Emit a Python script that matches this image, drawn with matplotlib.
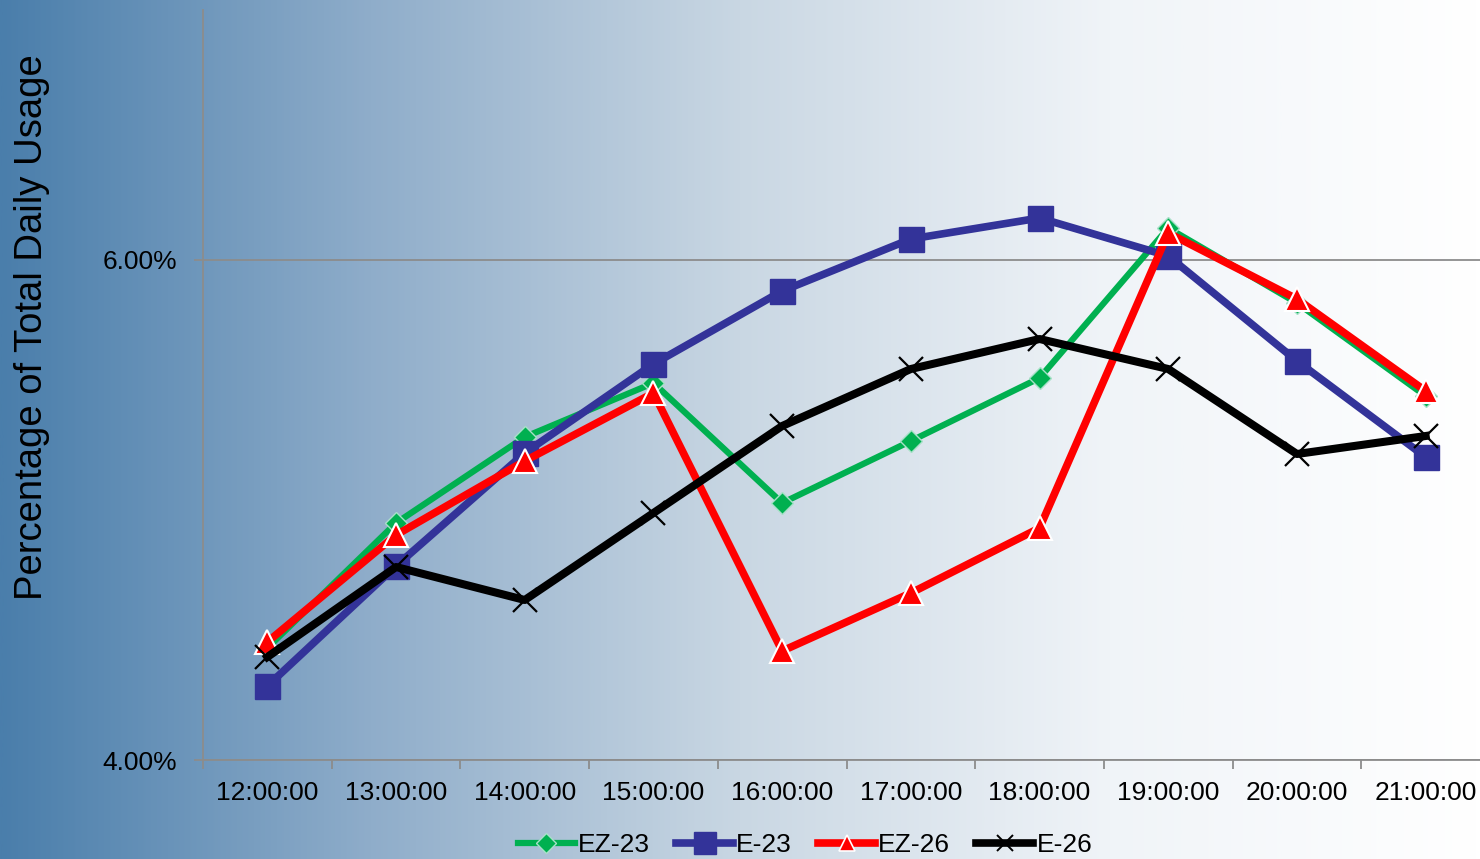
import numpy as np
import matplotlib.pyplot as plt
from matplotlib.lines import Line2D
from matplotlib.colors import LinearSegmentedColormap

plt.rcParams['font.family'] = ['Liberation Sans', 'DejaVu Sans']

hours = ["12:00:00", "13:00:00", "14:00:00", "15:00:00", "16:00:00",
         "17:00:00", "18:00:00", "19:00:00", "20:00:00", "21:00:00"]
ez23 = [4.448, 4.948, 5.292, 5.508, 5.028, 5.276, 5.528, 6.128, 5.828, 5.456]
e23 = [4.296, 4.776, 5.228, 5.584, 5.876, 6.084, 6.168, 6.016, 5.596, 5.212]
ez26 = [4.472, 4.900, 5.196, 5.468, 4.436, 4.668, 4.928, 6.108, 5.844, 5.476]
e26 = [4.412, 4.772, 4.640, 4.988, 5.336, 5.564, 5.684, 5.564, 5.224, 5.296]

fig = plt.figure(figsize=(14.8, 8.59), dpi=100)

# background gradient over the whole figure
bg = fig.add_axes([0, 0, 1, 1], zorder=-10)
cmap = LinearSegmentedColormap.from_list("bg", ["#4a7eab", "#8fadca", "#c9d7e3", "#f0f4f8", "#ffffff"])
bg.imshow(np.linspace(0, 1, 512)[None, :], aspect='auto', cmap=cmap, extent=[0, 1, 0, 1])
bg.axis('off')

ax = fig.add_axes([203 / 1480, 1 - 760 / 859, 1287 / 1480, 750 / 859])
ax.patch.set_alpha(0)
x = np.arange(len(hours))

ax.plot(x, ez23, color='#00b050', lw=4.5, marker='D', ms=11, mfc='#00b050',
        mec='#a8e0c8', mew=1, zorder=3)
ax.plot(x, e23, color='#333399', lw=5.5, marker='s', ms=18, mfc='#333399',
        mec='#333399', zorder=4)
ax.plot(x, ez26, color='#ff0000', lw=5.5, marker='^', ms=17, mfc='#ff0000',
        mec='white', mew=1.5, zorder=5)
ax.plot(x, e26, color='black', lw=5.8, zorder=6)
ax.plot(x, e26, ls='none', marker='x', ms=17, mec='black', mew=1.6, zorder=7)

ax.set_xlim(-0.5, 9.5)
ax.set_ylim(4.0, 7.0)
ax.set_yticks([4.0, 6.0])
ax.set_yticklabels(["4.00%", "6.00%"])
ax.set_xticks(x)
ax.set_xticklabels(hours)
ax.set_xticks(np.arange(-0.5, 10, 1), minor=True)
ax.tick_params(axis='x', which='major', length=0, pad=15, labelsize=19)
ax.tick_params(axis='x', which='minor', length=6.5, width=1.3, color='#8c8c8c', direction='out')
ax.tick_params(axis='y', length=6.5, width=1.3, color='#8c8c8c', pad=12, labelsize=19)
ax.grid(axis='y', color='#8c8c8c', lw=1.3)
ax.set_axisbelow(True)
for s in ['top', 'right']:
    ax.spines[s].set_visible(False)
for s in ['left', 'bottom']:
    ax.spines[s].set_color('#8c8c8c')
    ax.spines[s].set_linewidth(1.3)

fig.text(32 / 1480, 1 - 327 / 859, "Percentage of Total Daily Usage", rotation=90,
         ha='center', va='center', fontsize=27.5)

handles = [
    Line2D([], [], color='#00b050', lw=4.5, marker='D', ms=10, mfc='#00b050', mec='#a8e0c8', mew=1),
    Line2D([], [], color='#333399', lw=5.5, marker='s', ms=16, mfc='#333399', mec='#333399'),
    Line2D([], [], color='#ff0000', lw=5.5, marker='^', ms=12, mfc='#ff0000', mec='white', mew=1.2),
    Line2D([], [], color='black', lw=5.5, marker='x', ms=12, mec='black', mew=1.4),
]
fig.legend(handles, ["EZ-23", "E-23", "EZ-26", "E-26"], loc='center',
           bbox_to_anchor=(805 / 1480, 1 - 845 / 859), ncol=4, frameon=False,
           fontsize=19, handlelength=2.15, handletextpad=0.12, columnspacing=1.0)

fig.savefig("out.png", dpi=100)
